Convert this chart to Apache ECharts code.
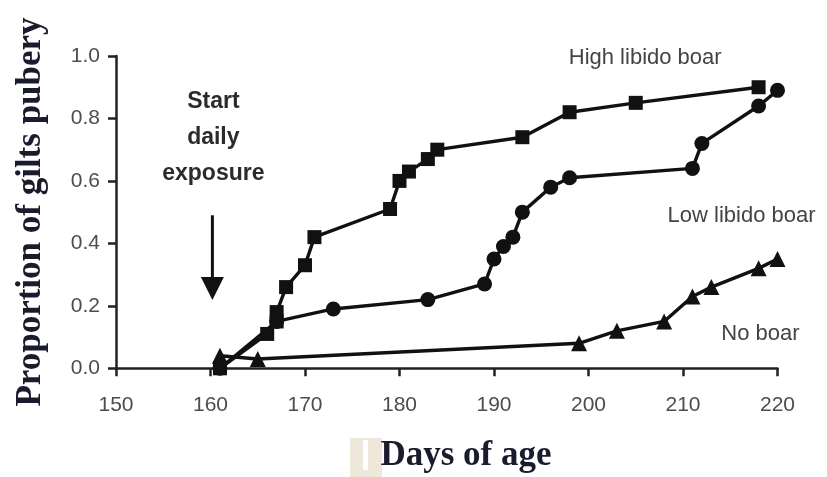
<!DOCTYPE html>
<html>
<head>
<meta charset="utf-8">
<script src="https://cdn.jsdelivr.net/npm/echarts@6/dist/echarts.min.js"></script>
<style>
  html, body { margin: 0; padding: 0; background: #ffffff; }
  #chart { width: 827px; height: 477px; }
</style>
</head>
<body>
<div id="chart"></div>
<script>
// Cumulative proportion of gilts reaching puberty by age (days)
const highDays = [161, 166, 167, 167, 168, 170, 171, 179, 180, 181, 183, 184, 193, 198, 205, 218];
const highVals = [0.00, 0.11, 0.15, 0.18, 0.26, 0.33, 0.42, 0.51, 0.60, 0.63, 0.67, 0.70, 0.74, 0.82, 0.85, 0.90];

const lowDays = [161, 167, 173, 183, 189, 190, 191, 192, 193, 196, 198, 211, 212, 218, 220];
const lowVals = [0.00, 0.15, 0.19, 0.22, 0.27, 0.35, 0.39, 0.42, 0.50, 0.58, 0.61, 0.64, 0.72, 0.84, 0.89];

const noDays = [161, 165, 199, 203, 208, 211, 213, 218, 220];
const noVals = [0.04, 0.03, 0.08, 0.12, 0.15, 0.23, 0.26, 0.32, 0.35];

const seriesNames = ['High libido boar', 'Low libido boar', 'No boar'];
const xTicks = [150, 160, 170, 180, 190, 200, 210, 220];
const yTicks = [0.0, 0.2, 0.4, 0.6, 0.8, 1.0];

const xTitle = 'Days of age';
const yTitle = 'Proportion of gilts pubery';
const exposureText = 'Start\ndaily\nexposure';

// where the exposure arrow sits (day, top value, tip value)
const arrowDay = 160.2;
const arrowTop = 0.49;
const arrowTip = 0.219;

const pairs = (xs, ys) => xs.map((x, i) => [x, ys[i]]);

const chart = echarts.init(document.getElementById('chart'), null, { renderer: 'canvas' });

const lineStyle = { color: '#111', width: 3.4 };
const itemStyle = { color: '#111' };

function makeSeries(name, data, symbol, size) {
  return {
    name: name,
    type: 'line',
    data: data,
    symbol: symbol,
    symbolSize: size,
    showSymbol: true,
    lineStyle: lineStyle,
    itemStyle: itemStyle,
    emphasis: { disabled: true },
    z: 3
  };
}

const option = {
  animation: false,
  backgroundColor: '#ffffff',
  grid: { left: 116, right: 49.5, top: 56, bottom: 108.7, containLabel: false },
  xAxis: {
    type: 'value',
    min: xTicks[0],
    max: xTicks[xTicks.length - 1],
    interval: 10,
    axisLine: { onZero: false, lineStyle: { color: '#222', width: 2.5 } },
    axisTick: { show: true, inside: false, length: 8, lineStyle: { color: '#222', width: 2.5 } },
    axisLabel: {
      margin: 26,
      fontFamily: 'Liberation Sans, Arial, sans-serif',
      fontSize: 21,
      color: '#4d4d4d'
    },
    splitLine: { show: false }
  },
  yAxis: {
    type: 'value',
    min: yTicks[0],
    max: yTicks[yTicks.length - 1],
    interval: 0.2,
    axisLine: { show: true, onZero: false, lineStyle: { color: '#222', width: 2.5 } },
    axisTick: { show: true, inside: false, length: 8, lineStyle: { color: '#222', width: 2.5 } },
    axisLabel: {
      margin: 16,
      fontFamily: 'Liberation Sans, Arial, sans-serif',
      fontSize: 21,
      color: '#4d4d4d',
      formatter: v => v.toFixed(1)
    },
    splitLine: { show: false }
  },
  series: [
    makeSeries(seriesNames[0], pairs(highDays, highVals), 'rect', 14),
    makeSeries(seriesNames[1], pairs(lowDays, lowVals), 'circle', 15),
    makeSeries(seriesNames[2], pairs(noDays, noVals), 'triangle', 16)
  ]
};

chart.setOption(option);

// annotations placed in data space
const px = (x, y) => chart.convertToPixel({ gridIndex: 0 }, [x, y]);

const labelFont = 'Liberation Sans, Arial, sans-serif';
const titleFont = 'Liberation Serif, Times New Roman, serif';

const pHigh = px(206.0, 0.994);
const pLow = px(216.2, 0.488);
const pNo = px(218.2, 0.110);
const pExpo = px(160.3, 0.74);
const aTop = px(arrowDay, arrowTop);
const aTip = px(arrowDay, arrowTip);
const headH = 23, headW = 23;

chart.setOption({
  graphic: [
    {
      type: 'text', x: pHigh[0], y: pHigh[1],
      style: { text: seriesNames[0], font: '22px ' + labelFont, fill: '#444', align: 'center', verticalAlign: 'middle' }
    },
    {
      type: 'text', x: pLow[0], y: pLow[1],
      style: { text: seriesNames[1], font: '22px ' + labelFont, fill: '#444', align: 'center', verticalAlign: 'middle' }
    },
    {
      type: 'text', x: pNo[0], y: pNo[1],
      style: { text: seriesNames[2], font: '22px ' + labelFont, fill: '#444', align: 'center', verticalAlign: 'middle' }
    },
    {
      type: 'text', x: pExpo[0], y: pExpo[1],
      style: { text: exposureText, font: 'bold 23px ' + labelFont, fill: '#2b2b2b', align: 'center', verticalAlign: 'middle', lineHeight: 36 }
    },
    {
      type: 'line',
      shape: { x1: aTop[0], y1: aTop[1], x2: aTip[0], y2: aTip[1] - headH + 2 },
      style: { stroke: '#111', lineWidth: 3 }
    },
    {
      type: 'polygon',
      shape: { points: [[aTip[0] - headW / 2, aTip[1] - headH], [aTip[0] + headW / 2, aTip[1] - headH], [aTip[0], aTip[1]]] },
      style: { fill: '#111' }
    },
    // faint beige patch left of the x title
    { type: 'rect', shape: { x: 350, y: 438, width: 32, height: 39 }, style: { fill: '#efe7da' } },
    { type: 'rect', shape: { x: 363, y: 440, width: 5, height: 30 }, style: { fill: '#ffffff' } },
    {
      type: 'text', x: 466, y: 456,
      style: { text: xTitle, font: 'bold 35px ' + titleFont, fill: '#1b1b2e', align: 'center', verticalAlign: 'middle' }
    },
    {
      type: 'text', x: 31, y: 212, rotation: Math.PI / 2,
      style: { text: yTitle, font: 'bold 35px ' + titleFont, fill: '#1b1b2e', align: 'center', verticalAlign: 'middle' }
    }
  ]
});
</script>
</body>
</html>
